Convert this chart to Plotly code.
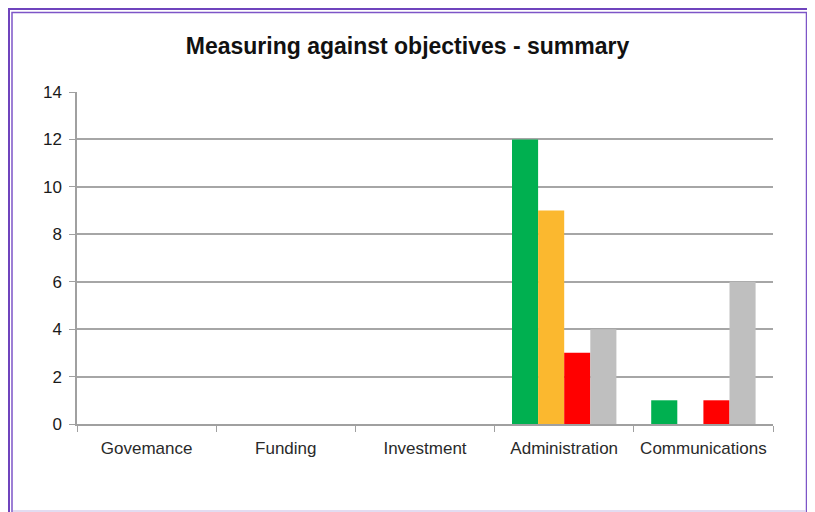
import plotly.graph_objects as go

categories = ["Govemance", "Funding", "Investment", "Administration", "Communications"]
series_names = ["Achieved", "In progress", "Not achieved", "Not started"]
green_vals = [0, 0, 0, 12, 1]
orange_vals = [0, 0, 0, 9, 0]
red_vals = [0, 0, 0, 3, 1]
gray_vals = [0, 0, 0, 4, 6]
colors = ["#00b050", "#fbb82f", "#ff0000", "#bfbfbf"]
y_ticks = [0, 2, 4, 6, 8, 10, 12, 14]

W, H = 815, 512
OFF = 8  # page body margin
L, R, T, B = 77, 773, 92, 424

fig = go.Figure()
for name, vals, col in zip(series_names, [green_vals, orange_vals, red_vals, gray_vals], colors):
    fig.add_trace(go.Bar(x=categories, y=vals, name=name, marker=dict(color=col, line=dict(width=0))))

def px_x(p):
    return (p - L) / (R - L)

def px_y(p):
    return (B - p) / (B - T)

shapes = [
    dict(type="rect", xref="paper", yref="paper", x0=px_x(9), x1=px_x(810), y0=px_y(530), y1=px_y(9),
         line=dict(color="#6f44bd", width=2), fillcolor="rgba(0,0,0,0)", layer="below"),
    dict(type="rect", xref="paper", yref="paper", x0=px_x(12), x1=px_x(806.5), y0=px_y(530), y1=px_y(12.5),
         line=dict(color="#7d55c7", width=1.5), fillcolor="rgba(0,0,0,0)", layer="below"),
    dict(type="line", xref="paper", yref="paper", x0=px_x(13), x1=px_x(806), y0=px_y(511), y1=px_y(511),
         line=dict(color="#d8d0ec", width=1.5), layer="below"),
]

fig.update_layout(
    width=W - OFF, height=H - OFF,
    margin=dict(l=L - OFF, r=W - R, t=T - OFF, b=H - B, pad=0),
    paper_bgcolor="rgba(0,0,0,0)", plot_bgcolor="white",
    showlegend=False,
    barmode="group", bargap=0.25, bargroupgap=0,
    title=dict(text="<b>Measuring against objectives - summary</b>", x=(407.5 - OFF) / (W - OFF), xref="container",
               y=1 - (46 - OFF) / (H - OFF), yref="container", yanchor="middle", xanchor="center",
               font=dict(family="Liberation Sans, Arial", size=23, color="#111111")),
    font=dict(family="Liberation Sans, Arial", size=17, color="#222222"),
    shapes=shapes,
    xaxis=dict(type="category", showline=True, linecolor="#a0a0a0", linewidth=1.5,
               ticks="outside", tickson="boundaries", ticklen=6, tickcolor="#a0a0a0", tickwidth=1.2,
               showgrid=False, tickangle=0, ticklabelstandoff=8,
               tickfont=dict(size=17, color="#2a2a2a"), fixedrange=True),
    yaxis=dict(range=[0, 14], tickvals=y_ticks, showgrid=True, gridcolor="#a6a6a6", gridwidth=1.5,
               showline=True, linecolor="#a0a0a0", linewidth=1.5, zeroline=False,
               ticks="outside", ticklen=6, tickcolor="#a0a0a0", tickwidth=1.2,
               ticklabelstandoff=4, tickfont=dict(size=17, color="#1a1a1a")),
)

fig.write_html("out.html", config={"displayModeBar": False})
